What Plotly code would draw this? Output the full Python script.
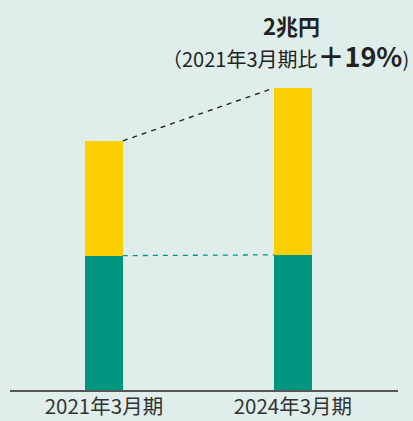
import plotly.graph_objects as go

categories = ["2021年3月期", "2024年3月期"]
green_values = [0.89, 0.895]
yellow_values = [0.76, 1.105]
headline = "2兆円"
sub_text = "（2021年3月期比<b><span style='font-size:27px'>＋19%</span></b>)"

BG = "#e0eeeb"
GREEN = "#00957f"
YELLOW = "#fcd000"
BAR_W = 0.2

xs = list(range(len(categories)))
fig = go.Figure()
fig.add_trace(go.Bar(x=xs, y=green_values, marker_color=GREEN, width=BAR_W, marker_line_width=0,
                     hoverinfo="skip"))
fig.add_trace(go.Bar(x=xs, y=yellow_values, marker_color=YELLOW, width=BAR_W, marker_line_width=0,
                     hoverinfo="skip"))

totals = [g + y for g, y in zip(green_values, yellow_values)]
# connector lines
fig.add_shape(type="line", xref="x", yref="y",
              x0=xs[0] + BAR_W / 2, y0=totals[0], x1=xs[1] - BAR_W / 2, y1=totals[1],
              line=dict(color="#222222", width=1.4, dash="5px,5px"))
fig.add_shape(type="line", xref="x", yref="y",
              x0=xs[0] + BAR_W / 2, y0=green_values[0], x1=xs[1] - BAR_W / 2, y1=green_values[1],
              line=dict(color=GREEN, width=1.3, dash="5px,5px"))

fig.add_annotation(x=xs[1], y=2.42, xref="x", yref="y", text="<b>" + headline + "</b>",
                   showarrow=False, font=dict(size=22, color="#222222"), xshift=-1)
fig.add_annotation(x=1.0335, y=2.215, xref="paper", yref="y", xanchor="right", text=sub_text,
                   showarrow=False, font=dict(size=20, color="#222222"))

fig.update_layout(
    width=413, height=421,
    margin=dict(l=10, r=15, t=0, b=31, autoexpand=False),
    paper_bgcolor=BG, plot_bgcolor=BG,
    barmode="stack", showlegend=False,
    font=dict(family="Noto Sans CJK JP", color="#333333"),
    xaxis=dict(range=[-0.497, 1.556], tickvals=xs, ticktext=categories, automargin=False,
               showgrid=False, zeroline=False, showline=True, linecolor="#555555",
               linewidth=1.5, ticks="", ticklabelstandoff=-2,
               tickfont=dict(size=20.5, color="#333333")),
    yaxis=dict(range=[0, 390 / 151], visible=False, automargin=False),
)
fig.write_html("out.html", config={"displayModeBar": False},
               post_script="document.body.style.margin='0';document.body.style.overflow='hidden';")
